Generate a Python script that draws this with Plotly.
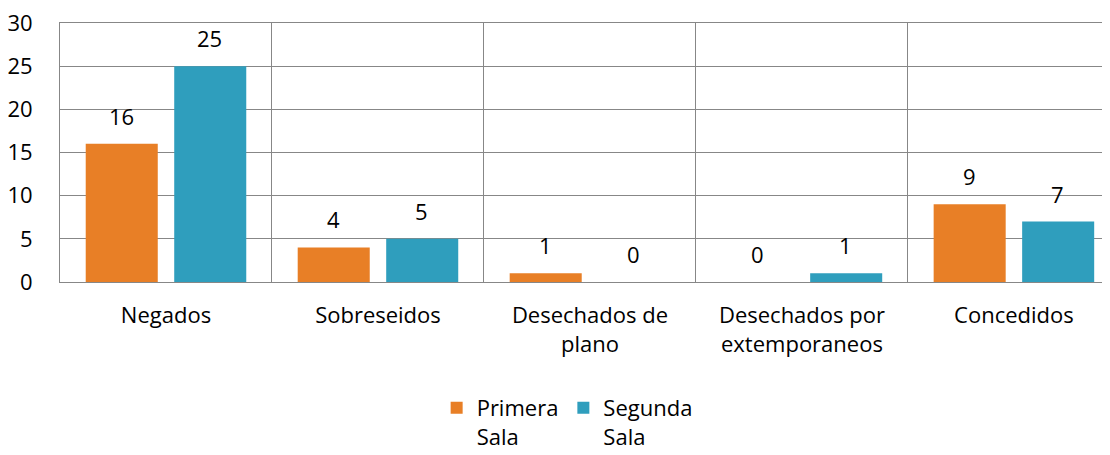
import plotly.graph_objects as go

categorias = ["Negados", "Sobreseidos", "Desechados de<br>plano",
              "Desechados por<br>extemporaneos", "Concedidos"]
primera_sala = [16, 4, 1, 0, 9]
segunda_sala = [25, 5, 0, 1, 7]
series_names = ["Primera<br>Sala", "Segunda<br>Sala"]
y_ticks = [0, 5, 10, 15, 20, 25, 30]

FONT = "Open Sans"
FSIZE = 22
colors = ["#E87F26", "#2F9EBD"]

fig = go.Figure()
for name, vals, color in zip(series_names, [primera_sala, segunda_sala], colors):
    fig.add_trace(go.Bar(
        x=categorias, y=vals, name=name,
        marker=dict(color=color, line=dict(width=0)),
        hoverinfo="x+y",
    ))

# value labels sitting above each bar
for shift, vals in zip([-44, 44], [primera_sala, segunda_sala]):
    for cat, v in zip(categorias, vals):
        fig.add_annotation(
            x=cat, y=v, text=str(v), showarrow=False,
            xshift=shift, yshift=28, yanchor="middle",
            font=dict(family=FONT, size=FSIZE, color="#000000"),
        )

fig.update_layout(
    width=1110, height=455,
    margin=dict(l=52, r=0, t=15, b=181, autoexpand=False),
    plot_bgcolor="white", paper_bgcolor="white",
    barmode="group", bargap=0.165, bargroupgap=0.186,
    font=dict(family=FONT, size=FSIZE, color="#000000"),
    showlegend=True,
    legend=dict(
        orientation="h", x=0.356, xanchor="left", y=-0.405, yanchor="top",
        font=dict(family=FONT, size=FSIZE, color="#000000"),
        itemwidth=30, tracegroupgap=0, valign="top",
    ),
)
fig.update_xaxes(
    range=[-0.5, 4.491], tickson="boundaries", showgrid=True,
    gridcolor="#878787", gridwidth=1, showline=True, linecolor="#878787",
    mirror=True, ticks="", ticklabelstandoff=14, automargin=False,
    tickfont=dict(family=FONT, size=FSIZE),
)
fig.update_yaxes(
    range=[0, 30], tickvals=y_ticks, showgrid=True, gridcolor="#878787",
    gridwidth=1, showline=True, linecolor="#878787", zeroline=False,
    ticks="", ticklabelstandoff=22, automargin=False,
    ticklabeloverflow="allow", tickfont=dict(family=FONT, size=FSIZE),
)

fig.write_html("out.html")
